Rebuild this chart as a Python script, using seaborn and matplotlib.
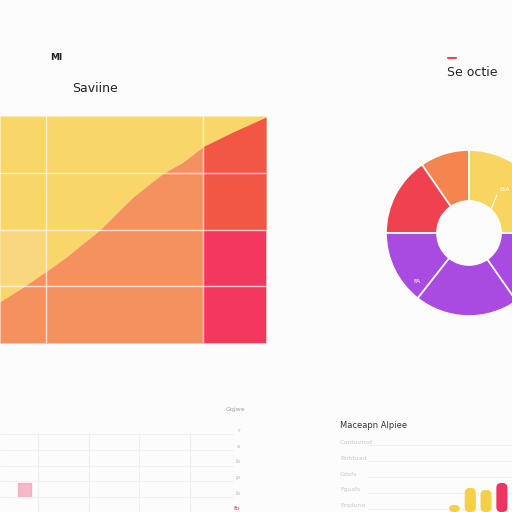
import matplotlib.pyplot as plt
import numpy as np
import seaborn as sns
from matplotlib.patches import FancyBboxPatch

sns.set_theme(style="white")
plt.rcParams['font.family'] = ['DejaVu Sans']

# area chart (upper left)
area_x = [0, 0.46, 0.9, 1.3, 1.63, 1.95, 2.28, 2.61, 2.93, 3.19, 3.58, 3.97, 4.56, 5.2]
area_y = [0.73, 0.99, 1.26, 1.52, 1.76, 1.99, 2.29, 2.58, 2.81, 2.99, 3.19, 3.46, 3.72, 3.98]
split_x = 3.97
split_y = 2
area_grid_x = [0.9, 3.97]
area_grid_y = [1, 2, 3]

# donut (upper right), counter-clockwise from 12 o'clock
donut_vals = [9.6, 15.4, 14.4, 20.3, 15.3, 25.0]
donut_cols = ['#f5844f', '#ef4250', '#a94be0', '#a94be0', '#a94be0', '#f7d560']

# faint table (lower left)
table_rows = ['r', 's', 'b', 'p', 'b', 'fb']
table_cols = 5

# list labels (lower right)
list_labels = ['Cantuvrod', 'Rnhtuad', 'Gdsfs', 'Fgusfs', 'Enpluno']

# small bars (lower right corner)
bar_names = ['a', 'b', 'c', 'd']
bar_vals = [7, 24, 22, 29]
bar_cols = ['#f6cf48', '#f6cf48', '#f6cf48', '#eb3562']

fig = plt.figure(figsize=(5.12, 5.12), dpi=100)
fig.patch.set_facecolor('#fcfcfc')

# ---- area chart
ax = fig.add_axes([0, 1 - 343 / 512, 266 / 512, 227 / 512])
xa = np.array(area_x)
ya = np.array(area_y)
ax.fill_between(xa, ya, 4, color='#f8d66a', lw=0)
# slightly lighter first cell of the third row
c = xa <= area_grid_x[0]
ax.fill_between(xa[c], np.maximum(ya[c], area_grid_y[0]), area_grid_y[1], color='#f8d77e', lw=0)
ax.fill_between(xa, 0, ya, color='#f5915e', lw=0)
r = xa >= split_x
ax.fill_between(xa[r], split_y, ya[r], color='#f25745', lw=0)
ax.fill_between(xa[r], 0, split_y, color='#f3375f', lw=0)
for gx in area_grid_x:
    ax.axvline(gx, color='white', lw=1.0, alpha=0.7)
for gy in area_grid_y:
    ax.axhline(gy, color='white', lw=1.0, alpha=0.7)
ax.set_xlim(0, 5.2)
ax.set_ylim(0, 4)
ax.set_xticks([])
ax.set_yticks([])
for s in ax.spines.values():
    s.set_visible(False)
fig.text(50 / 512, 1 - 57 / 512, 'Ml', fontsize=6.5, fontweight='bold', color='#222222', va='center')
fig.text(72 / 512, 1 - 88 / 512, 'Saviine', fontsize=9, color='#222222', va='center')

# ---- donut
axd = fig.add_axes([(469 - 90) / 512, 1 - (233 + 90) / 512, 180 / 512, 180 / 512])
axd.pie(donut_vals, colors=donut_cols, startangle=90, counterclock=True,
        radius=83 / 90, wedgeprops=dict(width=51 / 90, edgecolor='white', linewidth=1.2))
axd.set_xlim(-1, 1)
axd.set_ylim(-1, 1)
axd.set_aspect('equal')
axd.axis('off')
axd.text(0.34, 0.48, 'EtA', fontsize=4.5, color='white', ha='left', va='center')
axd.plot([0.23, 0.31], [0.23, 0.42], color='white', lw=0.8)
axd.text(-0.58, -0.54, 'FA', fontsize=4.5, color='white', ha='center', va='center')
fig.text(447 / 512, 1 - 73 / 512, 'Se octie', fontsize=9, color='#222222', va='center')
fig.add_artist(plt.Line2D([448 / 512, 456 / 512], [1 - 58 / 512] * 2, color='#e8455a', lw=1.5))

# ---- faint table
axt = fig.add_axes([0, 0, 245 / 512, 87 / 512])
n = len(table_rows)
ylo = -0.2
axt.vlines(range(1, table_cols), ylo, n - 1.25, color='#efefef', lw=0.8)
axt.hlines([k + 0.75 for k in range(n - 1)], 0.25, table_cols * 0.97, color='#f0f0f0', lw=0.8)
for k, lab in enumerate(table_rows):
    axt.text(4.98, n - 1 - k, lab, fontsize=4.5,
             color='#e84a6a' if k == n - 1 else '#b0b0b0', ha='right', va='center')
axt.add_patch(plt.Rectangle((0.605, 0.755), 0.26, 0.9, color='#f3a7bb', alpha=0.8))
axt.set_xlim(0.25, 0.25 + 245 / 50.7)
axt.set_ylim(ylo, ylo + 87 / 15.7)
axt.axis('off')
fig.text(245 / 512, 1 - 410 / 512, 'Gqjwe', fontsize=4.5, color='#a0a0a0', ha='right', va='center')

# ---- list
fig.text(340 / 512, 1 - 425 / 512, 'Maceapn Alpiee', fontsize=6, color='#333333', va='center')
for k, lab in enumerate(list_labels):
    yy = 1 - (442 + 16 * k) / 512
    fig.text(340 / 512, yy, lab, fontsize=4.5, color='#c8c8c8', va='center')
    fig.add_artist(plt.Line2D([368 / 512, 1], [yy - 3 / 512] * 2, color='#f0f0f0', lw=0.8, zorder=-1))

# ---- small bars
axb = fig.add_axes([445 / 512, 0, 67 / 512, 50 / 512])
axb.patch.set_alpha(0)
sns.barplot(x=bar_names, y=bar_vals, hue=bar_names, palette=bar_cols, legend=False,
            width=0.7, saturation=1, ax=axb)
for p in list(axb.patches):
    x0, y0, w, h = p.get_x(), p.get_y(), p.get_width(), p.get_height()
    fc = p.get_facecolor()
    p.remove()
    axb.add_patch(FancyBboxPatch((x0, y0), w, h, boxstyle='round,pad=0,rounding_size=0.3',
                                 mutation_aspect=15.8, fc=fc, ec='none'))
axb.set_xlim(-0.6, 3.64)
axb.set_ylim(0, 50)
axb.axis('off')

fig.savefig('out.png', dpi=100, facecolor=fig.get_facecolor())
